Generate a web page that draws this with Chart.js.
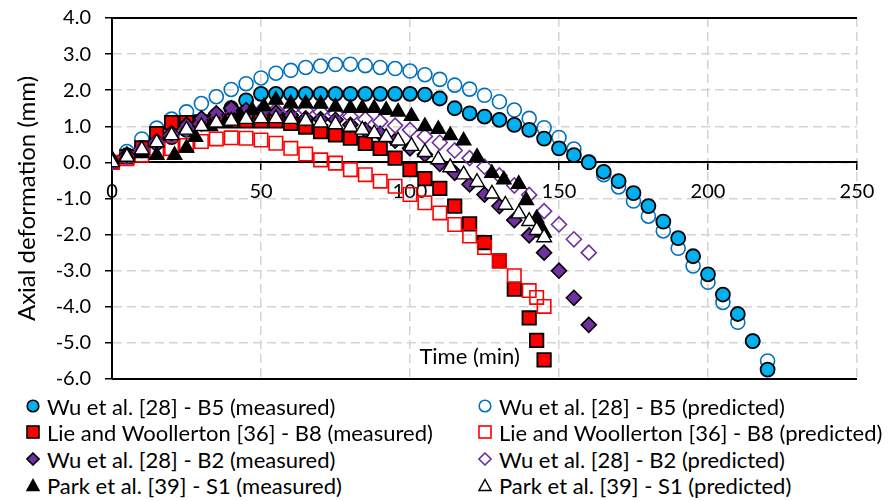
<!DOCTYPE html>
<html><head><meta charset="utf-8">
<script src="https://cdn.jsdelivr.net/npm/chart.js@4.4.1/dist/chart.umd.min.js"></script>
<style>
html,body{margin:0;padding:0;background:#fff;}
#wrap{position:relative;width:895px;height:501px;overflow:hidden;font-family:Lato,sans-serif;background:#fff;}
#c{position:absolute;left:0;top:-8px;}
.lg{position:absolute;height:26px;display:flex;align-items:center;font-size:22px;color:#000;white-space:nowrap;}
.lg svg{margin-right:7px;flex:none;}
</style></head>
<body><div id="wrap"><canvas id="c" width="895" height="413"></canvas></div>
<script>
// ---- data ----
const seriesNames = [
  "Wu et al. [28] - B5 (measured)", "Wu et al. [28] - B5 (predicted)",
  "Lie and Woollerton [36] - B8 (measured)", "Lie and Woollerton [36] - B8 (predicted)",
  "Wu et al. [28] - B2 (measured)", "Wu et al. [28] - B2 (predicted)",
  "Park et al. [39] - S1 (measured)", "Park et al. [39] - S1 (predicted)"
];
const xTitle = "Time (min)";
const yTitle = "Axial deformation (mm)";

const b5Time = [0,5,10,15,20,25,30,35,40,45,50,55,60,65,70,75,80,85,90,95,100,105,110,115,120,125,130,135,140,145,150,155,160,165,170,175,180,185,190,195,200,205,210,215,220];
const b5Measured = [0,0.2,0.4,0.55,0.7,0.9,1.1,1.3,1.5,1.72,1.9,1.9,1.9,1.9,1.9,1.9,1.9,1.9,1.9,1.9,1.9,1.88,1.77,1.5,1.36,1.27,1.18,1.04,0.9,0.66,0.39,0.2,0.0,-0.26,-0.52,-0.85,-1.21,-1.64,-2.1,-2.6,-3.1,-3.66,-4.2,-4.95,-5.74];
const b5Predicted = [0,0.3,0.65,0.95,1.2,1.4,1.63,1.82,2.02,2.18,2.34,2.47,2.55,2.63,2.67,2.71,2.72,2.68,2.63,2.6,2.53,2.43,2.3,2.14,2.03,1.86,1.68,1.45,1.22,0.96,0.69,0.37,0.02,-0.34,-0.68,-1.07,-1.49,-1.9,-2.38,-2.87,-3.32,-3.88,-4.43,-4.95,-5.5];

const b8Time = [0,5,10,15,20,25,30,35,40,45,50,55,60,65,70,75,80,85,90,95,100,105,110,115,120,125,130,135,140,142.5,145];
const b8Measured = [0,0.15,0.4,0.8,1.1,1.1,1.12,1.15,1.15,1.15,1.15,1.15,1.08,0.98,0.85,0.76,0.67,0.53,0.39,0.12,-0.2,-0.45,-0.72,-1.21,-1.7,-2.22,-2.73,-3.51,-4.31,-4.93,-5.47];
const b8Predicted = [0,0.1,0.2,0.3,0.38,0.47,0.58,0.65,0.68,0.67,0.62,0.53,0.39,0.23,0.07,-0.02,-0.2,-0.34,-0.52,-0.66,-0.89,-1.12,-1.4,-1.72,-2.04,-2.36,-2.73,-3.14,-3.55,-3.74,-3.99];

const b2Time = [0,5,10,15,20,25,30,35,40,45,50,55,60,65,70,75,80,85,90,95,100,105,110,115,120,125,130,135,140,145,150,155,160];
const b2Measured = [0,0.2,0.35,0.58,0.81,1.04,1.22,1.36,1.5,1.45,1.42,1.38,1.31,1.22,1.2,1.18,1.04,0.9,0.8,0.6,0.39,0.22,-0.04,-0.29,-0.61,-0.89,-1.21,-1.6,-2.02,-2.5,-3.0,-3.75,-4.5];
const b2Predicted = [0,0.15,0.35,0.55,0.75,0.92,1.07,1.2,1.3,1.37,1.42,1.45,1.45,1.44,1.4,1.35,1.27,1.2,1.13,1.02,0.9,0.72,0.55,0.33,0.12,-0.12,-0.36,-0.64,-0.9,-1.35,-1.72,-2.13,-2.5];

const s1MeasuredTime = [0,5,10,15,21,25,28,33,38,43,47,51,55,60,65,70,75,80,84,88,92,96,100.5,105,109.5,113.5,118,122.5,127.5,131.5,136.5,139,142.5,143.5,145];
const s1Measured = [0.1,0.2,0.25,0.2,0.2,0.4,0.7,1.0,1.1,1.3,1.45,1.55,1.73,1.63,1.63,1.62,1.54,1.5,1.5,1.5,1.45,1.4,1.28,1.0,0.92,0.75,0.6,0.15,-0.3,-0.48,-0.6,-1.05,-1.55,-1.75,-1.95];
const s1PredictedTime = [0,5,10,15,20,25,30,35,40,45,50,55,60,65,70,75,80,84,88,92,96,100.5,105,109.5,113.5,118,122.5,127.5,132,136.5,140,142.5,145];
const s1Predicted = [0,0.15,0.35,0.55,0.75,0.9,1.0,1.1,1.15,1.2,1.22,1.22,1.2,1.15,1.1,1.05,0.98,0.9,0.8,0.7,0.6,0.45,0.28,0.08,-0.14,-0.34,-0.55,-0.87,-1.18,-1.42,-1.63,-1.88,-2.08];

const xTicksStep = 50, xMin = 0, xMax = 250;
const yMin = -6, yMax = 4, yStep = 1;

// ---- build ----
const pts = (xs, ys) => xs.map((x, i) => ({x, y: ys[i]}));
const styles = [
  {shape:'circle',   fill:'#00B0F0', stroke:'#000000', r:7, bw:1.8, order:7},
  {shape:'circle',   fill:'rgba(0,0,0,0)', stroke:'#0070C0', r:7, bw:1.6, order:8},
  {shape:'rect',     fill:'#FF0000', stroke:'#000000', r:9.5, bw:1.8, order:6},
  {shape:'rect',     fill:'rgba(0,0,0,0)', stroke:'#FF0000', r:9.5, bw:1.6, order:5},
  {shape:'rectRot',  fill:'#7030A0', stroke:'#000000', r:7.5, bw:1.6, order:4},
  {shape:'rectRot',  fill:'rgba(0,0,0,0)', stroke:'#7030A0', r:7.5, bw:1.6, order:3},
  {shape:'triangle', fill:'#000000', stroke:'#000000', r:8.5, bw:1.2, order:2},
  {shape:'triangle', fill:'#FFFFFF', stroke:'#000000', r:8.5, bw:1.4, order:1}
];
const seriesData = [
  pts(b5Time, b5Measured), pts(b5Time, b5Predicted),
  pts(b8Time, b8Measured), pts(b8Time, b8Predicted),
  pts(b2Time, b2Measured), pts(b2Time, b2Predicted),
  pts(s1MeasuredTime, s1Measured), pts(s1PredictedTime, s1Predicted)
];
const datasets = seriesData.map((d, i) => ({
  label: seriesNames[i], data: d, showLine: false,
  pointStyle: styles[i].shape, pointRadius: styles[i].r, pointHoverRadius: styles[i].r,
  pointBackgroundColor: styles[i].fill, pointBorderColor: styles[i].stroke,
  pointBorderWidth: styles[i].bw, order: styles[i].order
}));

const FONT = 'Lato';
const frame = {
  id: 'frame',
  beforeDatasetsDraw(chart) {
    const {ctx, chartArea: a} = chart;
    ctx.save();
    ctx.strokeStyle = '#000'; ctx.lineWidth = 2;
    ctx.beginPath();
    ctx.moveTo(a.left, a.top); ctx.lineTo(a.right, a.top);
    ctx.moveTo(a.left, a.bottom); ctx.lineTo(a.right, a.bottom);
    ctx.stroke();
    ctx.restore();
  },
  afterDraw(chart) {
    const {ctx} = chart;
    const xs = chart.scales.x, ys = chart.scales.y;
    ctx.save();
    ctx.font = '22px ' + FONT; ctx.fillStyle = '#000';
    ctx.textAlign = 'center'; ctx.textBaseline = 'middle';
    ctx.fillText(xTitle, xs.getPixelForValue(120), ys.getPixelForValue(-5.4));
    ctx.restore();
  }
};

new Chart(document.getElementById('c'), {
  type: 'scatter',
  data: {datasets},
  options: {
    responsive: false, animation: false,
    layout: {padding: {left: 0, right: 38, top: 6, bottom: 4}},
    plugins: {legend: {display: false}, tooltip: {enabled: false}},
    scales: {
      x: {
        type: 'linear', min: xMin, max: xMax, position: {y: 0},
        ticks: {stepSize: xTicksStep, color: '#000', font: {family: FONT, size: 20}, padding: 10, maxRotation: 0},
        grid: {color: '#d4d4d4', lineWidth: 1.5, tickLength: 7, tickColor: '#000', tickWidth: 1.5, tickBorderDash: []},
        border: {color: '#000', width: 2, dash: [9, 5]}
      },
      y: {
        min: yMin, max: yMax,
        ticks: {stepSize: yStep, color: '#000', font: {family: FONT, size: 20}, padding: 14,
          callback: v => Number(v).toFixed(1)},
        grid: {color: '#d4d4d4', lineWidth: 1.5, tickLength: 7, tickColor: '#000', tickWidth: 1.5, tickBorderDash: []},
        border: {color: '#000', width: 2, dash: [9, 5]},
        title: {display: true, text: yTitle, color: '#000', font: {family: FONT, size: 24}, padding: {top: 13, bottom: 0}},
        afterFit(s) { s.width = 112; }
      }
    }
  },
  plugins: [frame]
});

// ---- legend (HTML text) ----
function marker(i) {
  const s = styles[i];
  const f = s.fill === 'rgba(0,0,0,0)' ? 'none' : s.fill;
  let shape;
  if (s.shape === 'circle') shape = `<circle cx="7" cy="7" r="5.8" fill="${f}" stroke="${s.stroke}" stroke-width="1.6"/>`;
  else if (s.shape === 'rect') shape = `<rect x="1" y="1" width="12" height="12" fill="${f}" stroke="${s.stroke}" stroke-width="1.6"/>`;
  else if (s.shape === 'rectRot') shape = `<polygon points="7,1 13,7 7,13 1,7" fill="${f}" stroke="${s.stroke}" stroke-width="1.6"/>`;
  else shape = `<polygon points="7,1.5 13,12.5 1,12.5" fill="${f}" stroke="${s.stroke}" stroke-width="1.4"/>`;
  return `<svg width="14" height="14" viewBox="0 0 14 14">${shape}</svg>`;
}
const wrap = document.getElementById('wrap');
const rowY = [406, 432, 459, 485];
const colX = [26, 478];
seriesNames.forEach((name, i) => {
  const d = document.createElement('div');
  d.className = 'lg';
  d.style.left = colX[i % 2] + 'px';
  d.style.top = (rowY[Math.floor(i / 2)] - 13) + 'px';
  d.innerHTML = marker(i) + '<span></span>';
  d.lastChild.textContent = name;
  wrap.appendChild(d);
});
</script></body></html>
